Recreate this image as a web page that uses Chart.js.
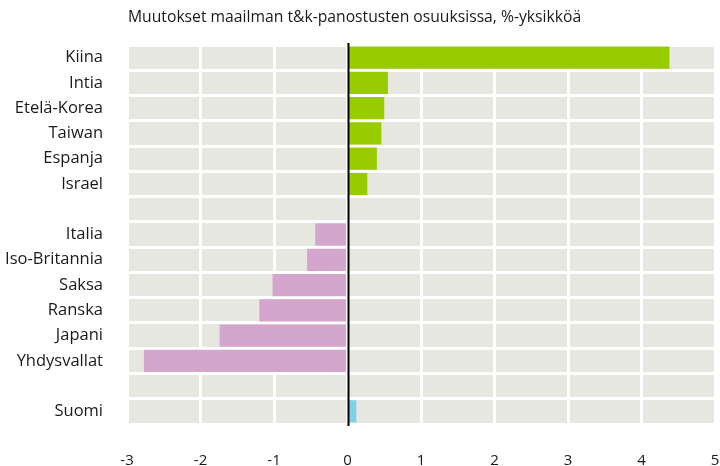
<!DOCTYPE html>
<html>
<head>
<meta charset="utf-8">
<script src="https://cdn.jsdelivr.net/npm/chart.js@4"></script>
<style>
  html, body { margin: 0; padding: 0; background: #fff; }
  #wrap { width: 720px; height: 466px; }
</style>
</head>
<body>
<div id="wrap"><canvas id="chart" width="720" height="466"></canvas></div>
<script>
const title = "Muutokset maailman t&k-panostusten osuuksissa, %-yksikköä";
const categories = ["Kiina", "Intia", "Etelä-Korea", "Taiwan", "Espanja", "Israel", " ",
  "Italia", "Iso-Britannia", "Saksa", "Ranska", "Japani", "Yhdysvallat", "  ", "Suomi"];
const values = [4.38, 0.55, 0.50, 0.46, 0.40, 0.27, null,
  -0.44, -0.55, -1.02, -1.20, -1.74, -2.77, null, 0.12];
const xTicks = [-3, -2, -1, 0, 1, 2, 3, 4, 5];

const FONT = "'Open Sans', sans-serif";

const barColors = categories.map((c, i) => {
  if (c === "Suomi") return "#7fd1e8";
  return values[i] < 0 ? "#d4a5cd" : "#99cc00";
});

// grey plot background
const plotBg = {
  id: "plotBg",
  beforeDraw(chart) {
    const { ctx, chartArea: a } = chart;
    ctx.save();
    ctx.fillStyle = "#e7e7e1";
    ctx.fillRect(a.left, a.top, a.right - a.left, a.bottom - a.top);
    ctx.restore();
  }
};

// black zero line + title
const extras = {
  id: "extras",
  afterDatasetsDraw(chart) {
    const { ctx, chartArea: a, scales } = chart;
    const x0 = Math.round(scales.x.getPixelForValue(0)) + 0.5;
    ctx.save();
    ctx.strokeStyle = "#000";
    ctx.lineWidth = 2;
    ctx.beginPath();
    ctx.moveTo(x0, a.top - 2);
    ctx.lineTo(x0, a.bottom + 2);
    ctx.stroke();
    ctx.fillStyle = "#1a1a1a";
    ctx.font = "15.7px " + FONT;
    ctx.textBaseline = "middle";
    ctx.textAlign = "left";
    ctx.fillText(title, a.left + 1, 18);
    ctx.restore();
  }
};

new Chart(document.getElementById("chart"), {
  type: "bar",
  data: {
    labels: categories,
    datasets: [{
      data: values,
      backgroundColor: barColors,
      borderWidth: 0,
      barPercentage: 1,
      categoryPercentage: 0.88
    }]
  },
  options: {
    indexAxis: "y",
    responsive: false,
    animation: false,
    layout: { padding: { top: 45, right: 5, left: 0, bottom: 0 } },
    plugins: {
      legend: { display: false },
      tooltip: { enabled: false }
    },
    scales: {
      x: {
        min: -3,
        max: 5,
        afterBuildTicks(scale) {
          scale.ticks = xTicks.map(v => ({ value: v }));
        },
        afterFit(scale) {
          scale.height = 42;
          scale.paddingLeft = 0;
          scale.paddingRight = 0;
        },
        grid: { color: "#fff", lineWidth: 3, drawTicks: false },
        border: { display: false },
        ticks: {
          padding: 28,
          color: "#1a1a1a",
          font: { family: FONT, size: 15 }
        }
      },
      y: {
        afterFit(scale) { scale.width = 127; },
        grid: { color: "#fff", lineWidth: 3, offset: true, drawTicks: false },
        border: { display: false },
        ticks: {
          padding: 24,
          color: "#1a1a1a",
          font: { family: FONT, size: 16.5 }
        }
      }
    }
  },
  plugins: [plotBg, extras]
});
</script>
</body>
</html>
